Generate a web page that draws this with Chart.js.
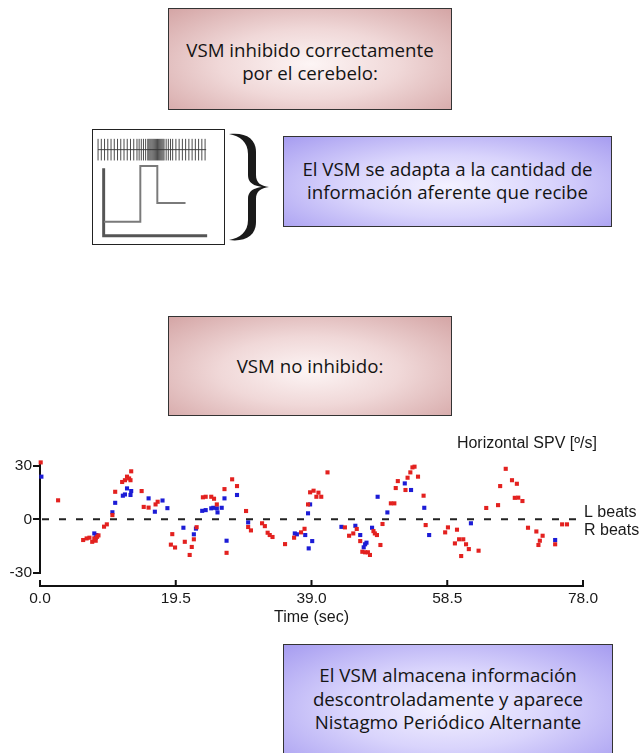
<!DOCTYPE html>
<html lang="es">
<head>
<meta charset="utf-8">
<title>VSM - Nistagmo Periódico Alternante</title>
<script src="https://cdn.jsdelivr.net/npm/chart.js@4.4.1/dist/chart.umd.min.js"></script>
<style>
  html, body { margin: 0; padding: 0; background: #fff; }
  body { width: 643px; height: 753px; position: relative; overflow: hidden;
         font-family: "Open Sans", sans-serif; color: #141414; }
  .box { position: absolute; box-sizing: border-box; border: 1.5px solid #333;
         display: flex; align-items: center; justify-content: center; text-align: center;
         font-size: 18.7px; line-height: 23.5px; }
  .rosa { background: radial-gradient(ellipse at 50% 55%, #fdf5f5 0%, #f0d8d8 45%, #d4a5a5 100%); }
  .lila { background: radial-gradient(ellipse at 50% 55%, #f4f2ff 0%, #d9d4fc 45%, #a69cf0 100%); }
  #icono { position: absolute; left: 92px; top: 129px; width: 133px; height: 116px;
           box-sizing: border-box; border: 1.5px solid #222; background: #fff; }
  #llave { position: absolute; left: 225px; top: 130px; }
  #spv { position: absolute; left: 0; top: 425px; }
</style>
</head>
<body>

<div class="box rosa" style="left:168px; top:8px; width:284px; height:102px; padding-top:4px;">
  VSM inhibido correctamente<br>por el cerebelo:
</div>

<svg id="icono" viewBox="0 0 133 116" width="133" height="116">
  <line x1="5" y1="20" x2="115" y2="20" stroke="#444" stroke-width="1"/>
  <path id="espigas" d="" stroke="#333" stroke-width="0.9" fill="none"/>
  <path d="M10.7 39 V107.7 H116" stroke="#555" stroke-width="3" fill="none"/>
  <path d="M11 93.3 H48 V36.7 H65.3 V74.3 H94" stroke="#7a7a7a" stroke-width="2" fill="none"/>
</svg>

<svg id="llave" width="50" height="115" viewBox="0 0 50 115">
  <path d="M4 4 C20 2 31 8 31 22 L31 45 C31 53 36 56 44 57 C36 58 31 61 31 69 L31 92 C31 106 20 112 4 110
           C15 108 23 102 23 90 L23 69 C23 61 29 58 37 57 C29 56 23 53 23 45 L23 24 C23 12 15 6 4 4 Z"
        fill="#1a1a1a"/>
</svg>

<div class="box lila" style="left:283px; top:136px; width:329px; height:91px; padding-bottom:3px;">
  El VSM se adapta a la cantidad de<br>información aferente que recibe
</div>

<div class="box rosa" style="left:168px; top:316px; width:284px; height:100px;">
  VSM no inhibido:
</div>

<canvas id="spv" width="643" height="210"></canvas>

<div class="box lila" style="left:283px; top:644px; width:330px; height:116px; border-bottom:none; padding-bottom:8px;">
  El VSM almacena información<br>descontroladamente y aparece<br>Nistagmo Periódico Alternante
</div>

<script>
// ---- Datos (SPV horizontal, º/s) ----
// rojo: batidas a la izquierda
const redTime = [0.1, 2.6, 6.2, 6.7, 7.1, 7.5, 7.8, 8.0, 8.2, 8.4, 9.2, 9.6, 10.4, 10.8, 11.8, 12.2, 12.5, 12.8, 13.0, 13.1,
  14.6, 14.9, 15.6, 16.6, 16.9, 18.8, 19.0, 19.4, 20.8, 21.5, 21.8, 22.1, 22.5, 23.4, 23.8, 24.6, 25.0, 25.4,
  26.5, 26.8, 27.6, 28.3, 29.6, 29.9, 30.3, 31.9, 32.3, 32.7, 33.0, 33.4, 35.2, 36.5, 37.5, 38.0, 38.5, 38.8,
  39.3, 39.7, 40.0, 40.4, 41.3, 43.8, 44.4, 45.0, 45.5, 46.0, 46.3, 46.7, 47.1, 47.4, 47.9, 48.1, 48.4, 48.9,
  49.2, 50.4, 50.9, 51.1, 51.4, 52.5, 52.8, 53.2, 53.5, 53.8, 54.3, 55.1, 55.4, 58.2, 58.6, 59.6, 59.9, 60.2,
  60.5, 60.8, 61.2, 61.6, 63.0, 64.1, 65.8, 66.1, 66.9, 67.8, 68.2, 68.5, 68.7, 69.3, 70.1, 71.3, 71.6, 71.8,
  72.2, 74.0, 75.0, 75.7];
const redSpv = [32, 10.7, -11.6, -10.7, -10.3, -12.6, -10.7, -12.0, -9.8, -9.0, -4.1, -2.8, 2.4, 15.5, 21.0, 22.0, 24.0, 23.0, 22.0, 27.0,
  15.9, 7.0, 6.6, 8.4, 9.9, -14.2, -8.3, -15.8, -12.6, -20.0, -15.5, -11.2, -4.4, 12.4, 12.7, 12.7, 11.6, 8.4,
  17.0, -18.8, 22.5, 18.7, 4.7, -4.3, -6.2, -2.2, -3.8, -7.5, -8.8, -9.9, -13.9, -10.3, -7.3, -5.3, 8.4, 15.2,
  16.1, 12.7, 15.0, 12.7, 26.4, -4.5, -9.2, -7.9, -5.4, -12.2, -18.2, -18.5, -18.5, -20.0, -6.6, -7.9, -8.8, -14.4,
  -2.6, 9.0, 9.0, 17.6, 21.5, 16.5, 23.4, 26.4, 29.2, 29.6, 24.0, 13.3, -3.2, -7.3, -4.5, -13.5, -5.8, -11.2,
  -20.6, -11.2, -14.0, -16.7, -17.6, 6.4, 8.0, 18.7, 28.4, 22.0, 12.1, 20.0, 12.2, 10.3, -4.7, -6.8, -14.4, -12.0,
  -9.2, -14.0, -2.8, -2.8];
// azul: batidas a la derecha
const blueTime = [0.2, 7.8, 8.1, 8.0, 10.4, 10.8, 11.9, 12.2, 12.5, 13.0, 13.1, 15.6, 16.5, 17.6, 18.3, 20.6, 22.1, 22.4,
  23.3, 23.8, 24.6, 24.9, 25.4, 25.5, 26.1, 26.5, 26.8, 28.3, 29.9, 36.6, 36.9, 38.1, 38.5, 38.6, 38.8, 39.1,
  43.3, 45.3, 46.0, 46.5, 46.7, 46.9, 47.7, 48.5, 49.9, 52.4, 53.3, 55.2, 55.9, 61.9, 74.0];
const blueSpv = [24.0, -7.9, -8.8, -10.4, 4.0, 9.3, 13.3, 14.0, 17.4, 13.7, 15.9, 11.8, 4.3, 10.6, 6.3, -4.7, -8.4, -5.2,
  4.8, 5.2, 6.2, 6.5, 6.2, 3.9, 6.5, 11.8, -12.0, 13.7, -1.7, -7.9, -8.4, -8.8, 3.4, -16.3, 8.4, -12.2,
  -4.2, -3.6, -8.8, -15.7, -14.0, -13.1, -4.7, 12.7, 3.9, 20.2, 16.5, 6.5, -8.8, -2.2, -11.6];

const xTicks = [0, 19.5, 39.0, 58.5, 78.0];
const yTicks = [-30, 0, 30];

const FONT = '"Liberation Sans", Arial, sans-serif';
const INK = '#1a1a1a';

const toPoints = (xs, ys) => xs.map((x, i) => ({ x, y: ys[i] }));

// espigas del dibujito (solo ilustración)
(function () {
  let d = '', sx = 5;
  while (sx <= 115) {
    d += `M${sx.toFixed(1)} 9 V31 `;
    sx += (sx > 55 && sx < 71) ? 1.1 : (sx > 44 && sx < 80 ? 2.2 : 3.3);
  }
  document.getElementById('espigas').setAttribute('d', d);
})();

// línea discontinua en 0, eje x separado y textos
const ejesPlugin = {
  id: 'ejes',
  beforeDatasetsDraw(chart) {
    const { ctx, scales: { x, y } } = chart;
    const y0 = y.getPixelForValue(0);
    ctx.save();
    ctx.strokeStyle = '#222';
    ctx.lineWidth = 2;
    ctx.setLineDash([7, 10]);
    ctx.beginPath();
    ctx.moveTo(x.getPixelForValue(0) + 2, y0);
    ctx.lineTo(x.getPixelForValue(78), y0);
    ctx.stroke();
    ctx.restore();
  },
  afterDraw(chart) {
    const { ctx, chartArea: a, scales: { x, y } } = chart;
    const yb = a.bottom + 12.7;
    ctx.save();
    ctx.strokeStyle = '#111';
    ctx.lineWidth = 2;
    ctx.beginPath();
    ctx.moveTo(x.getPixelForValue(xTicks[0]) - 1, yb);
    ctx.lineTo(x.getPixelForValue(xTicks[xTicks.length - 1]) + 1, yb);
    xTicks.forEach(v => {
      const px = x.getPixelForValue(v);
      ctx.moveTo(px, yb);
      ctx.lineTo(px, yb - 6);
    });
    ctx.stroke();

    ctx.fillStyle = INK;
    ctx.font = `16px ${FONT}`;
    ctx.textBaseline = 'alphabetic';
    ctx.textAlign = 'right';
    ctx.fillText('Horizontal SPV [º/s]', a.right + 14, a.top - 13.7);
    ctx.textAlign = 'left';
    const y0 = y.getPixelForValue(0);
    ctx.fillText('L beats', a.right + 1, y0 - 2.6);
    ctx.fillText('R beats', a.right + 1, y0 + 15.7);
    ctx.restore();
  }
};

new Chart(document.getElementById('spv'), {
  type: 'scatter',
  data: {
    datasets: [
      { label: 'L beats', data: toPoints(redTime, redSpv), pointStyle: 'rect', pointRadius: 2.9,
        pointBackgroundColor: '#e3211f', pointBorderWidth: 0 },
      { label: 'R beats', data: toPoints(blueTime, blueSpv), pointStyle: 'rect', pointRadius: 2.9,
        pointBackgroundColor: '#1c1cd6', pointBorderWidth: 0 }
    ]
  },
  options: {
    responsive: false,
    animation: false,
    clip: false,
    layout: { padding: { top: 36.7, right: 60, left: 0, bottom: 0 } },
    plugins: { legend: { display: false }, tooltip: { enabled: false } },
    scales: {
      x: {
        type: 'linear', min: 0, max: 78,
        afterBuildTicks: s => { s.ticks = xTicks.map(v => ({ value: v })); },
        afterFit: s => { s.height = 61.7; },
        grid: { display: false, drawTicks: false },
        border: { display: false },
        ticks: { padding: 16, color: INK, font: { family: FONT, size: 15.5 }, autoSkip: false, maxRotation: 0,
                 callback: v => Number(v).toFixed(1) },
        title: { display: true, text: 'Time (sec)', color: INK, font: { family: FONT, size: 16 },
                 padding: { top: 0, bottom: 7.5 } }
      },
      y: {
        type: 'linear', min: -30.3, max: 32.4,
        afterBuildTicks: s => { s.ticks = yTicks.map(v => ({ value: v })); },
        afterFit: s => { s.width = 40; },
        grid: { display: true, drawOnChartArea: false, drawTicks: true, tickLength: 7, lineWidth: 2, color: '#111' },
        border: { display: true, width: 2, color: '#111' },
        ticks: { padding: 1, color: INK, font: { family: FONT, size: 15.5 }, callback: v => String(v) }
      }
    }
  },
  plugins: [ejesPlugin]
});
</script>
</body>
</html>
